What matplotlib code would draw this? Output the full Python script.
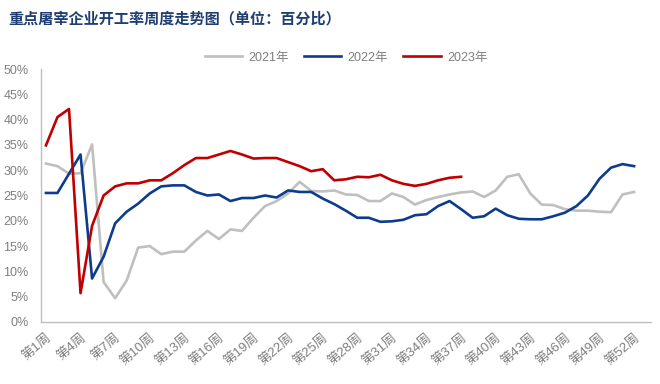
import numpy as np
import matplotlib
matplotlib.use('Agg')
import matplotlib.pyplot as plt

plt.rcParams['font.family'] = ['Liberation Sans', 'Noto Sans CJK SC', 'DejaVu Sans']

# weekly operating rate of key slaughter enterprises (%)
weeks = np.arange(1, 53)
rate_2021 = [31.3, 30.8, 29.3, 29.4, 35.1, 7.9, 4.7, 8.2, 14.7, 15.0,
             13.4, 13.9, 13.9, 16.1, 18.0, 16.4, 18.3, 18.0, 20.6, 22.9,
             23.9, 25.4, 27.7, 25.9, 25.8, 26.0, 25.2, 25.1, 23.9, 23.9,
             25.4, 24.7, 23.2, 24.1, 24.7, 25.2, 25.6, 25.8, 24.7, 26.0,
             28.7, 29.2, 25.4, 23.2, 23.1, 22.3, 22.0, 22.0, 21.8, 21.7,
             25.2, 25.7]
rate_2022 = [25.5, 25.5, 29.3, 33.1, 8.6, 12.9, 19.5, 21.8, 23.4, 25.4,
             26.8, 27.0, 27.0, 25.7, 25.0, 25.2, 23.9, 24.5, 24.5, 25.0,
             24.6, 26.0, 25.7, 25.7, 24.4, 23.3, 22.0, 20.6, 20.6, 19.8,
             19.9, 20.2, 21.1, 21.3, 22.9, 23.9, 22.3, 20.6, 20.9, 22.4,
             21.1, 20.4, 20.3, 20.3, 20.9, 21.6, 22.9, 25.0, 28.3, 30.5,
             31.2, 30.8]
rate_2023 = [34.9, 40.5, 42.1, 5.7, 19.0, 25.0, 26.8, 27.4, 27.4, 28.0,
             28.0, 29.4, 31.0, 32.4, 32.4, 33.1, 33.8, 33.1, 32.3, 32.4,
             32.4, 31.6, 30.8, 29.8, 30.2, 28.0, 28.2, 28.7, 28.6, 29.1,
             28.0, 27.3, 26.9, 27.3, 28.0, 28.5, 28.7]

tick_weeks = list(range(1, 53, 3))
tick_labels = [f'第{w}周' for w in tick_weeks]
y_ticks = list(range(0, 51, 5))

fig = plt.figure(figsize=(6.6, 3.84), dpi=100)
ax = fig.add_axes([0.0621, 0.1615, 0.9243, 0.6588])

ax.plot(weeks, rate_2021, color='#BFBFBF', lw=1.9, label='2021年')
ax.plot(weeks, rate_2022, color='#0E3C8C', lw=1.9, label='2022年')
ax.plot(weeks[:len(rate_2023)], rate_2023, color='#C00000', lw=1.9, label='2023年')

ax.set_xlim(0.57, 53.47)
ax.set_ylim(0, 50)
ax.set_yticks(y_ticks)
ax.set_yticklabels([f'{v}%' for v in y_ticks])
ax.set_xticks(tick_weeks)
ax.set_xticklabels(tick_labels, rotation=40, ha='right', va='top',
                   rotation_mode='anchor')
ax.tick_params(length=0, colors='#7F7F7F')
ax.tick_params(axis='x', pad=7, labelsize=9.5)
ax.tick_params(axis='y', pad=9, labelsize=9)

for s in ['top', 'right']:
    ax.spines[s].set_visible(False)
for s in ['left', 'bottom']:
    ax.spines[s].set_color('#BFBFBF')
    ax.spines[s].set_linewidth(1.0)

leg = ax.legend(loc='center', bbox_to_anchor=(0.5, 1.045), ncol=3, frameon=False,
                handlelength=3.0, columnspacing=1.2, handletextpad=0.5,
                fontsize=9)
for t in leg.get_texts():
    t.set_color('#7F7F7F')

fig.text(0.012, 0.953, '重点屠宰企业开工率周度走势图（单位：百分比）',
         family=['Noto Sans CJK SC'], fontsize=10.9, fontweight='bold',
         color='#1F3F73', va='center', ha='left')

fig.savefig('out.png', dpi=100)
